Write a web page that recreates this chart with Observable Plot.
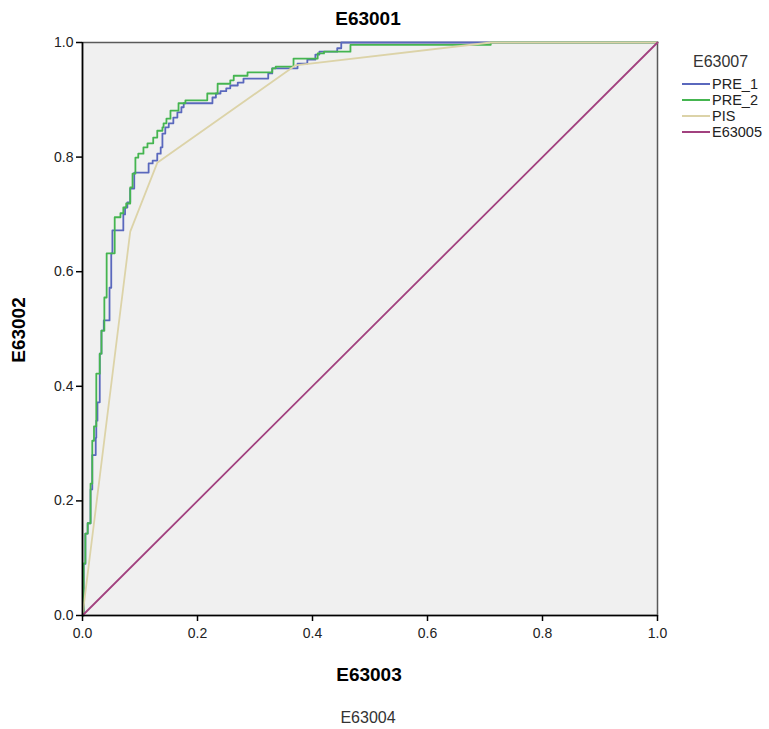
<!DOCTYPE html>
<html>
<head>
<meta charset="utf-8">
<script src="https://cdn.jsdelivr.net/npm/d3@7"></script>
<script src="https://cdn.jsdelivr.net/npm/@observablehq/plot@0.6"></script>
<style>
  html, body { margin: 0; padding: 0; background: #fff; }
  #wrap { position: relative; width: 769px; height: 729px; font-family: "Liberation Sans", Arial, sans-serif; }
  .abs { position: absolute; white-space: nowrap; }
  #title { left: 368px; top: 19px; transform: translate(-50%, -50%); font-weight: bold; font-size: 19px; }
  #xlab { left: 369px; top: 675px; transform: translate(-50%, -50%); font-weight: bold; font-size: 19px; }
  #ylab { left: 19px; top: 330px; transform: translate(-50%, -50%) rotate(-90deg); font-weight: bold; font-size: 19px; }
  #foot { left: 368px; top: 718px; transform: translate(-50%, -50%); font-size: 16px; color: #333; }
  #legend { left: 682px; top: 53px; font-size: 14.5px; color: #222; }
  #legend .lt { font-size: 16px; color: #333; margin-left: 11px; margin-bottom: 5px; }
  #legend .it { display: flex; align-items: center; height: 16px; }
  #legend .sw { width: 28px; height: 2px; margin-right: 2px; flex: none; }
</style>
</head>
<body>
<div id="wrap"></div>
<script>
// ---- data ----
const seriesNames = ["PRE_1", "PRE_2", "PIS", "E63005"];
const seriesColors = ["#5a68bd", "#45b550", "#dcd3a8", "#a2417f"];
const xTicks = [0, 0.2, 0.4, 0.6, 0.8, 1.0];
const yTicks = [0, 0.2, 0.4, 0.6, 0.8, 1.0];

const pre1 = [[0,0],[0.002,0],[0.002,0.09],[0.005,0.09],[0.005,0.143],[0.009,0.143],[0.009,0.161],[0.014,0.161],[0.014,0.22],[0.017,0.22],[0.017,0.28],[0.023,0.28],[0.023,0.31],[0.024,0.31],[0.024,0.34],[0.026,0.34],[0.026,0.372],[0.030,0.372],[0.030,0.457],[0.033,0.457],[0.033,0.497],[0.037,0.497],[0.037,0.515],[0.047,0.515],[0.047,0.572],[0.05,0.572],[0.05,0.632],[0.052,0.632],[0.052,0.672],[0.071,0.672],[0.071,0.70],[0.074,0.70],[0.074,0.712],[0.078,0.712],[0.078,0.721],[0.083,0.721],[0.083,0.745],[0.09,0.745],[0.09,0.773],[0.096,0.773],[0.115,0.773],[0.115,0.789],[0.122,0.789],[0.122,0.794],[0.13,0.794],[0.13,0.806],[0.136,0.806],[0.136,0.817],[0.139,0.817],[0.139,0.841],[0.144,0.841],[0.144,0.852],[0.15,0.852],[0.15,0.859],[0.158,0.859],[0.158,0.869],[0.165,0.869],[0.165,0.878],[0.172,0.878],[0.172,0.887],[0.176,0.887],[0.176,0.894],[0.226,0.894],[0.226,0.904],[0.232,0.904],[0.232,0.911],[0.24,0.911],[0.24,0.915],[0.25,0.915],[0.25,0.92],[0.257,0.92],[0.257,0.925],[0.27,0.925],[0.27,0.93],[0.28,0.93],[0.28,0.937],[0.323,0.937],[0.323,0.946],[0.33,0.946],[0.33,0.955],[0.374,0.955],[0.374,0.963],[0.391,0.963],[0.391,0.97],[0.405,0.97],[0.405,0.979],[0.412,0.979],[0.412,0.984],[0.443,0.984],[0.443,0.99],[0.45,0.99],[0.45,1],[1,1]];

const pre2 = [[0,0],[0.002,0],[0.002,0.091],[0.005,0.091],[0.005,0.143],[0.009,0.143],[0.009,0.161],[0.014,0.161],[0.014,0.23],[0.017,0.23],[0.017,0.305],[0.02,0.305],[0.02,0.33],[0.024,0.33],[0.024,0.422],[0.03,0.422],[0.03,0.457],[0.033,0.457],[0.033,0.497],[0.038,0.497],[0.038,0.555],[0.042,0.555],[0.042,0.632],[0.056,0.632],[0.056,0.695],[0.066,0.695],[0.066,0.702],[0.071,0.702],[0.071,0.712],[0.076,0.712],[0.076,0.719],[0.083,0.719],[0.083,0.747],[0.087,0.747],[0.087,0.771],[0.092,0.771],[0.092,0.799],[0.097,0.799],[0.097,0.806],[0.106,0.806],[0.106,0.817],[0.113,0.817],[0.113,0.824],[0.123,0.824],[0.123,0.834],[0.13,0.834],[0.13,0.846],[0.139,0.846],[0.139,0.852],[0.141,0.852],[0.141,0.859],[0.146,0.859],[0.146,0.867],[0.153,0.867],[0.153,0.881],[0.167,0.881],[0.167,0.894],[0.179,0.894],[0.179,0.899],[0.217,0.899],[0.217,0.911],[0.235,0.911],[0.235,0.928],[0.257,0.928],[0.257,0.934],[0.263,0.934],[0.263,0.942],[0.287,0.942],[0.287,0.948],[0.33,0.948],[0.33,0.955],[0.336,0.955],[0.336,0.958],[0.367,0.958],[0.367,0.972],[0.409,0.972],[0.409,0.981],[0.42,0.981],[0.42,0.984],[0.466,0.984],[0.466,0.996],[0.71,0.996],[0.71,1],[1,1]];

const pis = [[0,0],[0.083,0.67],[0.13,0.79],[0.37,0.96],[0.71,1],[1,1]];
const ref = [[0,0],[1,1]];

// ---- build table ----
const seriesData = [pre1, pre2, pis, ref];
const rows = [];
seriesData.forEach((pts, i) => pts.forEach(([x, y]) => rows.push({series: seriesNames[i], x, y})));

const chart = Plot.plot({
  width: 769,
  height: 729,
  marginLeft: 82,
  marginRight: 112,
  marginTop: 42,
  marginBottom: 114,
  style: {fontFamily: '"Liberation Sans", Arial, sans-serif', fontSize: "14px", color: "#000", background: "#fff", overflow: "visible"},
  x: {domain: [0, 1]},
  y: {domain: [0, 1]},
  color: {domain: seriesNames, range: seriesColors},
  marks: [
    Plot.frame({fill: "#f0f0f0", stroke: "#5a5a5a", strokeWidth: 1.5}),
    Plot.line(rows, {x: "x", y: "y", z: "series", stroke: "series", strokeWidth: 1.8}),
    Plot.ruleX([0], {stroke: "#000", strokeWidth: 1.6}),
    Plot.ruleY([0], {stroke: "#000", strokeWidth: 1.6}),
    Plot.axisX({ticks: xTicks, tickFormat: d3.format(".1f"), tickSize: 6, tickPadding: 7, label: null, stroke: "#000", strokeWidth: 1.5, fill: "#222"}),
    Plot.axisY({ticks: yTicks, tickFormat: d3.format(".1f"), tickSize: 6, tickPadding: 3, label: null, stroke: "#000", strokeWidth: 1.5, fill: "#222"})
  ]
});

const wrap = document.getElementById("wrap");
wrap.appendChild(chart);
function addText(id, text) {
  const d = document.createElement("div");
  d.id = id; d.className = "abs"; d.textContent = text;
  wrap.appendChild(d);
}
addText("title", "E63001");
addText("xlab", "E63003");
addText("ylab", "E63002");
addText("foot", "E63004");

const lg = document.createElement("div");
lg.id = "legend"; lg.className = "abs";
const lt = document.createElement("div"); lt.className = "lt"; lt.textContent = "E63007";
lg.appendChild(lt);
seriesNames.forEach((n, i) => {
  const it = document.createElement("div"); it.className = "it";
  const sw = document.createElement("div"); sw.className = "sw"; sw.style.backgroundColor = seriesColors[i];
  const tx = document.createElement("span"); tx.textContent = n;
  it.appendChild(sw); it.appendChild(tx); lg.appendChild(it);
});
wrap.appendChild(lg);
</script>
</body>
</html>
